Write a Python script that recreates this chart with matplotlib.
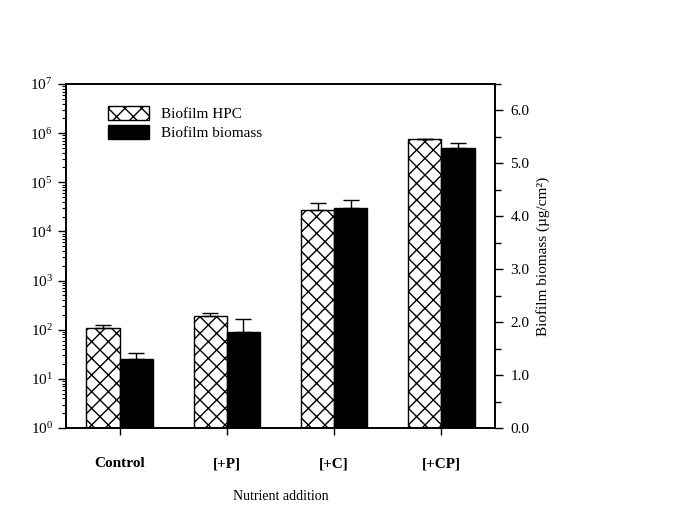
import matplotlib
matplotlib.use("Agg")
import matplotlib.pyplot as plt
import numpy as np
from matplotlib.ticker import LogLocator, FixedLocator, NullFormatter, MultipleLocator
from matplotlib.patches import Patch

plt.rcParams['font.family'] = ['Liberation Serif', 'DejaVu Serif']
plt.rcParams['mathtext.fontset'] = 'custom'
plt.rcParams['mathtext.rm'] = 'Liberation Serif'
plt.rcParams['mathtext.it'] = 'Liberation Serif:italic'
plt.rcParams['hatch.linewidth'] = 1.0

categories = ["Control", "[+P]", "[+C]", "[+CP]"]
hpc = [108, 190, 27500, 750000]
hpc_err = [17, 29, 10500, 0]
biomass = [1.30, 1.81, 4.16, 5.29]
biomass_err = [0.12, 0.25, 0.15, 0.09]

fig = plt.figure(figsize=(6.77, 5.15), dpi=100)
ax1 = fig.add_axes([66/677, 1-428/515, (495-66)/677, (428-84)/515])
ax2 = ax1.twinx()

x = np.arange(len(categories))
w = 0.31

ax1.bar(x - w/2, hpc, width=w, bottom=1, color='white', edgecolor='black',
        hatch='xx', linewidth=1.0, align='center', zorder=2)
ax1.errorbar(x - w/2, np.array(hpc) + 1, yerr=[np.zeros(4), hpc_err], fmt='none',
             ecolor='black', elinewidth=1.0, capsize=6, capthick=1.0, zorder=3)
ax2.bar(x + w/2, biomass, width=w, color='black', edgecolor='black',
        linewidth=1.0, zorder=2)
ax2.errorbar(x + w/2, biomass, yerr=[np.zeros(4), biomass_err], fmt='none',
             ecolor='black', elinewidth=1.0, capsize=6, capthick=1.0, zorder=3)

ax1.set_yscale('log')
ax1.set_ylim(1, 1e7)
ax1.set_xlim(-0.5, 3.5)
ax1.yaxis.set_major_locator(FixedLocator([10**k for k in range(8)]))
ax1.set_yticklabels([r'$10^{%d}$' % k for k in range(8)], fontsize=11)
ax1.yaxis.set_minor_locator(LogLocator(base=10, subs=np.arange(2, 10), numticks=20))
ax1.yaxis.set_minor_formatter(NullFormatter())
ax1.tick_params(axis='y', which='major', direction='out', length=6, width=1)
ax1.tick_params(axis='y', which='minor', direction='out', length=3, width=0.8)

ax1.set_xticks(x)
ax1.set_xticklabels(categories, fontsize=11, fontweight='bold')
ax1.tick_params(axis='x', direction='out', length=5, width=1, pad=16)
ax1.set_xlabel("Nutrient addition", fontsize=10, labelpad=14)

ax2.set_ylim(0, 6.5)
ax2.yaxis.set_major_locator(FixedLocator([0, 1, 2, 3, 4, 5, 6]))
ax2.set_yticklabels(['%.1f' % v for v in range(7)], fontsize=11)
ax2.yaxis.set_minor_locator(MultipleLocator(0.5))
ax2.tick_params(axis='y', which='major', direction='out', length=6, width=1, pad=5)
ax2.tick_params(axis='y', which='minor', direction='out', length=4, width=1)
ax2.set_ylabel("Biofilm biomass (\u00b5g/cm\u00b2)", fontsize=11, rotation=90)
ax2.yaxis.set_label_coords(1.095, 0.5)

for a in (ax1, ax2):
    for s in a.spines.values():
        s.set_linewidth(1.2)

handles = [Patch(facecolor='white', edgecolor='black', hatch='xx', linewidth=1.0),
           Patch(facecolor='black', edgecolor='black')]
leg = ax1.legend(handles, ["Biofilm HPC", "Biofilm biomass"], loc='upper left',
                 bbox_to_anchor=(0.065, 0.975), frameon=False, fontsize=11,
                 handlelength=2.7, handleheight=1.0, labelspacing=0.25,
                 handletextpad=0.8)

fig.savefig("out.png", dpi=100)
